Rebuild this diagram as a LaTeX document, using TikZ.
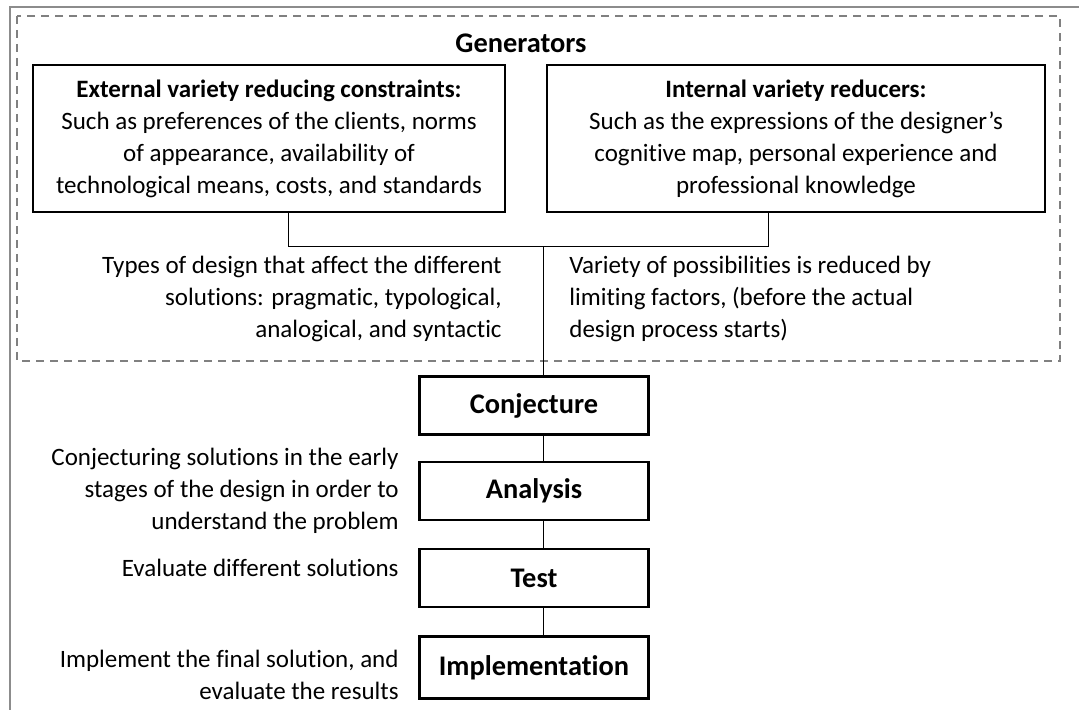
\documentclass[tikz,border=0pt]{standalone}
\usepackage{fontspec}
\setmainfont{Carlito}[Ligatures=CommonOff]
\newcommand\bodyfont{\fontsize{12.5}{16}\selectfont}
\newcommand\headfont{\fontsize{14.2}{17}\selectfont\bfseries}
\tikzset{box/.style = {shape=rectangle,draw,line width=1.2pt,align=center}}
\tikzset{stage/.style = {box,minimum width=114.5pt,minimum height=29pt,font=\headfont}}
\tikzset{note/.style = {align=right,anchor=east,inner sep=0pt}}
\tikzset{wire/.style = {line width=0.5pt}}
\tikzset{frame/.style = {draw=black!45,line width=0.8pt}}

\begin{document}
\begin{tikzpicture}[x=0.5pt,y=-0.5pt,font=\bodyfont]
\useasboundingbox (0,0) rectangle (1079,710);

\draw[frame] (1079,7) -- (10,7) -- (10,710);
\draw[frame,draw=black!50,dash pattern=on 4pt off 3pt] (17,16) rectangle (1060,361);

\node[font=\headfont] (gen) at (521,43) {Generators};

\node[box,minimum width=236pt,minimum height=73.5pt] (lbox) at (269,138.5)
  {\textbf{External variety reducing constraints:}\\Such as preferences of the clients, norms\\of appearance, availability of\\technological means, costs, and standards};
\node[box,minimum width=249pt,minimum height=73.5pt] (rbox) at (796,138.5)
  {\textbf{Internal variety reducers:}\\Such as the expressions of the designer’s\\cognitive map, personal experience and\\professional knowledge};

\coordinate (lfoot) at (288,247);
\coordinate (rfoot) at (768,247);
\coordinate (hub) at (543,247);

\node[note] (types) at (502,299)
  {Types of design that affect the different\\solutions: pragmatic, typological,\\analogical, and syntactic};
\node[note,align=left,anchor=west] (variety) at (569,299)
  {Variety of possibilities is reduced by\\limiting factors, (before the actual\\design process starts)};

\node[stage] (conj) at (534,405.5) {Conjecture};
\node[stage] (ana) at (534,491) {Analysis};
\node[stage] (test) at (534,578) {Test};
\node[stage,minimum height=31pt] (impl) at (534,667.5) {Implementation};

\node[note] (anatxt) at (399,491)
  {Conjecturing solutions in the early\\stages of the design in order to\\understand the problem};
\node[note] (testtxt) at (399,568) {Evaluate different solutions};
\node[note] (impltxt) at (399,675)
  {Implement the final solution, and\\evaluate the results};

\draw[wire] (lbox.south -| lfoot) -- (lfoot) -- (rfoot) -- (rbox.south -| rfoot);
\draw[wire] (hub) -- (conj.north -| hub);
\foreach \a/\b in {conj/ana,ana/test,test/impl}
  \draw[wire] (\a.south -| hub) -- (\b.north -| hub);

\end{tikzpicture}
\end{document}
